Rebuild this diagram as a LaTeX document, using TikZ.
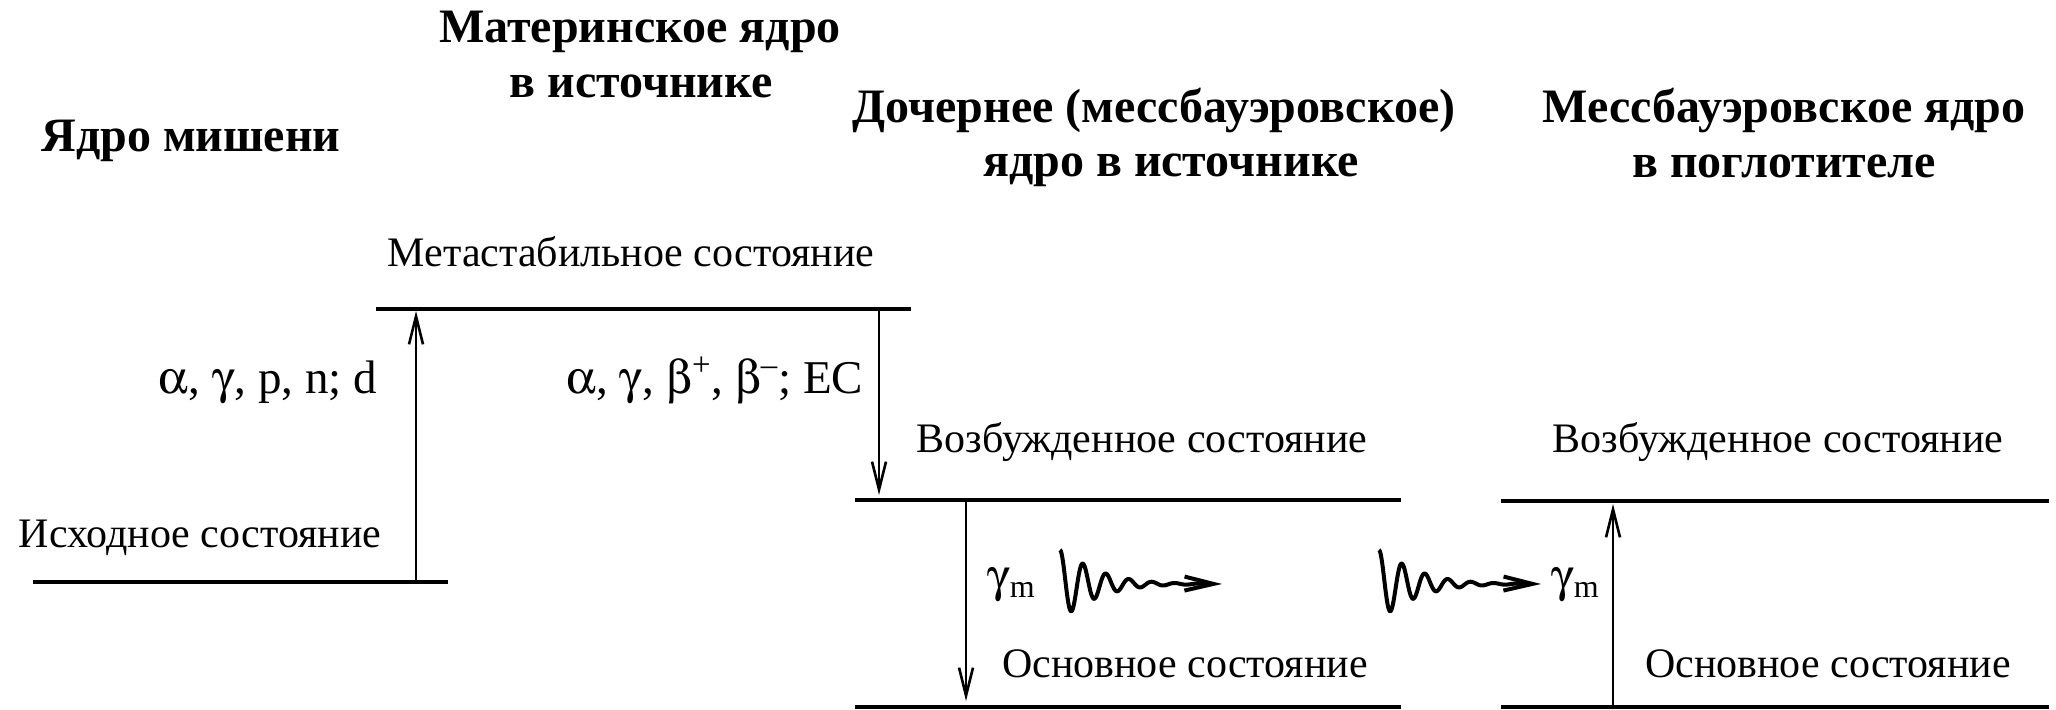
\documentclass[tikz,border=0pt]{standalone}
\usepackage{fontspec}
\usepackage[Symbol]{upgreek}
\setmainfont{Liberation Serif}
\usetikzlibrary{arrows.meta}

\newcommand{\galpha}{$\upalpha$}
\newcommand{\gbeta}{$\upbeta$}
\newcommand{\ggamma}{$\upgamma$}

% damped gamma-ray wave ending in an open arrow head
\tikzset{
  pics/gammawave/.style={code={
    \draw[line width=2pt, line join=round,
          -{Straight Barb[length=14.5pt,width=7pt]}]
      plot[domain=0:135, samples=320]
        (\x, {-34*exp(-(\x/40)^1.2)*cos(15.65*\x)}) -- (162,0);
  }}
}

\begin{document}
\begin{tikzpicture}[x=0.5pt, y=-0.5pt,
  level/.style={line width=2pt},
  trans/.style={line width=1.3pt, -{Straight Barb[length=14pt,width=7pt]}},
  head/.style={font=\fontsize{24pt}{28pt}\selectfont\bfseries, inner sep=0pt, anchor=base},
  state/.style={font=\fontsize{21pt}{25pt}\selectfont, inner sep=0pt, anchor=base},
  proc/.style={font=\fontsize{23.5pt}{28pt}\selectfont, inner sep=0pt, anchor=base}]
\useasboundingbox (0,0) rectangle (2056,710);

% column headings
\node[head] (tgt)  at (191,152)  {Ядро мишени};
\node[head] (par1) at (640,43)   {Материнское ядро};
\node[head] (par2) at (641,98)   {в источнике};
\node[head] (dau1) at (1154,123) {Дочернее (мессбауэровское)};
\node[head] (dau2) at (1171,177) {ядро в источнике};
\node[head] (abs1) at (1784,123) {Мессбауэровское ядро};
\node[head] (abs2) at (1784,178) {в поглотителе};

% energy levels
\coordinate (L1w) at (33,582);   \coordinate (L1e) at (448,582);
\coordinate (L2w) at (376,309);  \coordinate (L2e) at (911,309);
\coordinate (L3w) at (855,500);  \coordinate (L3e) at (1401,500);
\coordinate (L4w) at (855,707);  \coordinate (L4e) at (1401,707);
\coordinate (L5w) at (1501,501); \coordinate (L5e) at (2049,501);
\coordinate (L6w) at (1501,707); \coordinate (L6e) at (2049,707);
\foreach \i in {1,...,6} \draw[level] (L\i w) -- (L\i e);

% level labels
\node[state] (meta) at (631,267)  {Метастабильное состояние};
\node[state] (init) at (200,548)  {Исходное состояние};
\node[state] (exc1) at (1142,453) {Возбужденное состояние};
\node[state] (exc2) at (1778,453) {Возбужденное состояние};
\node[state] (gnd1) at (1185,677) {Основное состояние};
\node[state] (gnd2) at (1828,677) {Основное состояние};

% transitions
\coordinate (a1s) at (416,582);  \coordinate (a1e) at (416,311);
\coordinate (a2s) at (879,309);  \coordinate (a2e) at (879,495);
\coordinate (a3s) at (966,500);  \coordinate (a3e) at (966,701);
\coordinate (a4s) at (1613,707); \coordinate (a4e) at (1613,504);
\draw[trans] (a1s) -- (a1e);
\draw[trans] (a2s) -- (a2e);
\draw[trans] (a3s) -- (a3e);
\draw[trans] (a4s) -- (a4e);

\node[proc] (r1) at (268,394) {\galpha, \ggamma, p, n; d};
\node[proc] (r2) at (715,394) {\galpha, \ggamma, \gbeta\textsuperscript{+}, \gbeta\textsuperscript{–}; EC};

% emitted and absorbed gamma quanta
\node[proc] (g1) at (1011,592) {\ggamma\raisebox{-2.5pt}{\fontsize{16pt}{16pt}\selectfont m}};
\node[proc] (g2) at (1575,592) {\ggamma\raisebox{-2.5pt}{\fontsize{16pt}{16pt}\selectfont m}};
\pic (w1) at (1060,584) {gammawave};
\pic (w2) at (1379,584) {gammawave};
\end{tikzpicture}
\end{document}
